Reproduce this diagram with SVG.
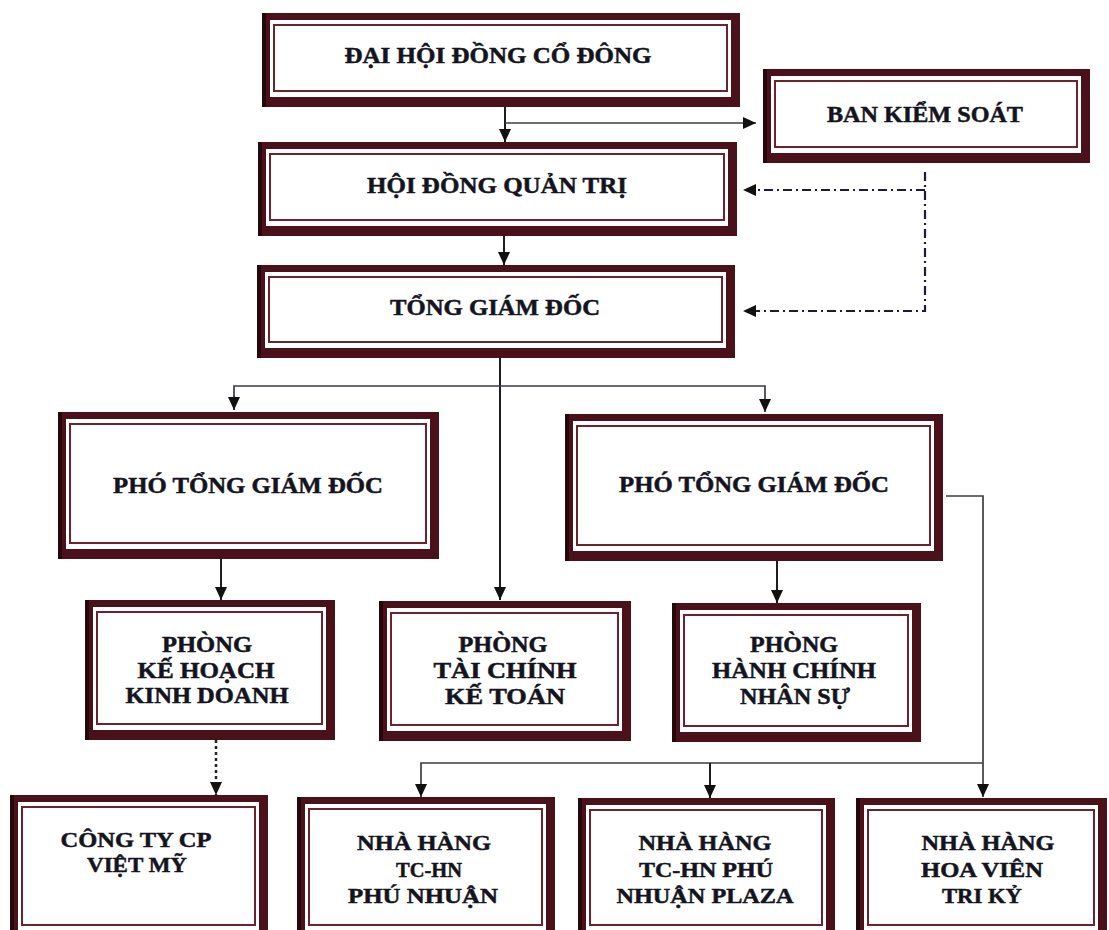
<svg xmlns="http://www.w3.org/2000/svg" width="1109" height="930" viewBox="0 0 1109 930">
<style>
.outer{fill:#4a111a}
.edge{fill:#26070b}
.gap{fill:#ffffff}
.thin{fill:#ffffff;stroke:#6e222c;stroke-width:2}
.lbl{font-family:"Liberation Serif","Times New Roman",serif;font-weight:bold;font-size:23px;fill:#14141e;stroke:#14141e;stroke-width:0.5;text-anchor:middle}
.sm{font-size:22px}
.ln{fill:none;stroke:#1e1e1e;stroke-width:2}
.lnh{fill:none;stroke:#3c3c44;stroke-width:1.7}
.dd{fill:none;stroke:#1c1c3a;stroke-width:2.2;stroke-dasharray:9 4 2 4}
.dot{fill:none;stroke:#222;stroke-width:2.5;stroke-dasharray:3 3}
</style>
<defs>
<marker id="ah" markerUnits="userSpaceOnUse" markerWidth="13" markerHeight="12" refX="13" refY="6" orient="auto">
<path d="M0,0 L13,6 L0,12 z" fill="#111"/>
</marker>
</defs>
<rect width="1109" height="930" fill="#ffffff"/>

<g id="connectors">
<path class="ln" d="M505,107 V142" marker-end="url(#ah)"/>
<path class="lnh" d="M505,123 H756" marker-end="url(#ah)"/>
<path class="ln" d="M504,236 V265" marker-end="url(#ah)"/>
<path class="dd" d="M925,172 V311 H743" marker-end="url(#ah)"/>
<path class="dd" d="M925,190 H743" marker-end="url(#ah)"/>
<path class="ln" d="M500,358 V600" marker-end="url(#ah)"/>
<path class="lnh" d="M234,410 V386 H765 V412" marker-end="url(#ah)"/>
<path class="lnh" d="M234,395 V410" marker-end="url(#ah)"/>
<path class="ln" d="M221,559 V600" marker-end="url(#ah)"/>
<path class="ln" d="M777,561 V603" marker-end="url(#ah)"/>
<path class="lnh" d="M946,496 H983 V797" marker-end="url(#ah)"/>
<path class="lnh" d="M983,763 H421 V797" marker-end="url(#ah)"/>
<path class="ln" d="M710,763 V798" marker-end="url(#ah)"/>
<path class="dot" d="M216,740 V795" marker-end="url(#ah)"/>
</g>

<g id="n-dhdcd">
<rect class="outer" x="262" y="13" width="478" height="94"/>
<rect class="edge" x="262" y="13" width="4" height="94"/>
<rect class="gap" x="270" y="20" width="461" height="77"/>
<rect class="thin" x="274" y="25" width="453" height="66"/>
<text class="lbl" x="498" y="63" textLength="307" lengthAdjust="spacingAndGlyphs">ĐẠI HỘI ĐỒNG CỔ ĐÔNG</text>
</g>

<g id="n-bks">
<rect class="outer" x="763" y="69" width="327" height="94"/>
<rect class="edge" x="763" y="69" width="4" height="94"/>
<rect class="gap" x="771" y="76" width="310" height="77"/>
<rect class="thin" x="775" y="81" width="302" height="66"/>
<text class="lbl" x="925" y="122" textLength="196" lengthAdjust="spacingAndGlyphs">BAN KIỂM SOÁT</text>
</g>

<g id="n-hdqt">
<rect class="outer" x="258" y="142" width="479" height="94"/>
<rect class="edge" x="258" y="142" width="4" height="94"/>
<rect class="gap" x="266" y="149" width="462" height="77"/>
<rect class="thin" x="270" y="154" width="454" height="66"/>
<text class="lbl" x="497" y="193" textLength="260" lengthAdjust="spacingAndGlyphs">HỘI ĐỒNG QUẢN TRỊ</text>
</g>

<g id="n-tgd">
<rect class="outer" x="257" y="265" width="478" height="93"/>
<rect class="edge" x="257" y="265" width="4" height="93"/>
<rect class="gap" x="265" y="272" width="461" height="76"/>
<rect class="thin" x="269" y="277" width="453" height="65"/>
<text class="lbl" x="495" y="315" textLength="210" lengthAdjust="spacingAndGlyphs">TỔNG GIÁM ĐỐC</text>
</g>

<g id="n-ptgd1">
<rect class="outer" x="58" y="412" width="381" height="147"/>
<rect class="edge" x="58" y="412" width="4" height="147"/>
<rect class="gap" x="66" y="419" width="364" height="130"/>
<rect class="thin" x="70" y="424" width="356" height="119"/>
<text class="lbl" x="248" y="493" textLength="270" lengthAdjust="spacingAndGlyphs">PHÓ TỔNG GIÁM ĐỐC</text>
</g>

<g id="n-ptgd2">
<rect class="outer" x="565" y="414" width="378" height="147"/>
<rect class="edge" x="565" y="414" width="4" height="147"/>
<rect class="gap" x="573" y="421" width="361" height="130"/>
<rect class="thin" x="577" y="426" width="353" height="119"/>
<text class="lbl" x="754" y="492" textLength="270" lengthAdjust="spacingAndGlyphs">PHÓ TỔNG GIÁM ĐỐC</text>
</g>

<g id="n-khkd">
<rect class="outer" x="85" y="600" width="250" height="140"/>
<rect class="edge" x="85" y="600" width="4" height="140"/>
<rect class="gap" x="93" y="607" width="233" height="123"/>
<rect class="thin" x="97" y="612" width="225" height="112"/>
<text class="lbl" x="207" y="652" textLength="90" lengthAdjust="spacingAndGlyphs">PHÒNG</text>
<text class="lbl" x="206" y="678" textLength="137" lengthAdjust="spacingAndGlyphs">KẾ HOẠCH</text>
<text class="lbl" x="207" y="703" textLength="163" lengthAdjust="spacingAndGlyphs">KINH DOANH</text>
</g>

<g id="n-tckt">
<rect class="outer" x="379" y="601" width="252" height="140"/>
<rect class="edge" x="379" y="601" width="4" height="140"/>
<rect class="gap" x="387" y="608" width="235" height="123"/>
<rect class="thin" x="391" y="613" width="227" height="112"/>
<text class="lbl" x="503" y="652" textLength="89" lengthAdjust="spacingAndGlyphs">PHÒNG</text>
<text class="lbl" x="505" y="678" textLength="143" lengthAdjust="spacingAndGlyphs">TÀI CHÍNH</text>
<text class="lbl" x="505" y="704" textLength="120" lengthAdjust="spacingAndGlyphs">KẾ TOÁN</text>
</g>

<g id="n-hcns">
<rect class="outer" x="672" y="603" width="249" height="139"/>
<rect class="edge" x="672" y="603" width="4" height="139"/>
<rect class="gap" x="680" y="610" width="232" height="122"/>
<rect class="thin" x="684" y="615" width="224" height="111"/>
<text class="lbl" x="794" y="652" textLength="88" lengthAdjust="spacingAndGlyphs">PHÒNG</text>
<text class="lbl" x="794" y="678" textLength="164" lengthAdjust="spacingAndGlyphs">HÀNH CHÍNH</text>
<text class="lbl" x="795" y="704" textLength="110" lengthAdjust="spacingAndGlyphs">NHÂN SỰ</text>
</g>

<g id="n-vietmy">
<rect class="outer" x="10" y="795" width="258" height="150"/>
<rect class="edge" x="10" y="795" width="4" height="150"/>
<rect class="gap" x="18" y="802" width="241" height="130"/>
<rect class="thin" x="22" y="807" width="233" height="118"/>
<text class="lbl sm" x="136" y="847" textLength="151" lengthAdjust="spacingAndGlyphs">CÔNG TY CP</text>
<text class="lbl sm" x="137" y="872" textLength="100" lengthAdjust="spacingAndGlyphs">VIỆT MỸ</text>
</g>

<g id="n-nh1">
<rect class="outer" x="297" y="797" width="258" height="150"/>
<rect class="edge" x="297" y="797" width="4" height="150"/>
<rect class="gap" x="305" y="804" width="241" height="128"/>
<rect class="thin" x="309" y="809" width="233" height="116"/>
<text class="lbl sm" x="424" y="850" textLength="134" lengthAdjust="spacingAndGlyphs">NHÀ HÀNG</text>
<text class="lbl sm" x="429" y="877" textLength="66" lengthAdjust="spacingAndGlyphs">TC-HN</text>
<text class="lbl sm" x="423" y="903" textLength="150" lengthAdjust="spacingAndGlyphs">PHÚ NHUẬN</text>
</g>

<g id="n-nh2">
<rect class="outer" x="578" y="798" width="257" height="150"/>
<rect class="edge" x="578" y="798" width="4" height="150"/>
<rect class="gap" x="586" y="805" width="240" height="127"/>
<rect class="thin" x="590" y="810" width="232" height="115"/>
<text class="lbl sm" x="705" y="850" textLength="133" lengthAdjust="spacingAndGlyphs">NHÀ HÀNG</text>
<text class="lbl sm" x="706" y="877" textLength="134" lengthAdjust="spacingAndGlyphs">TC-HN PHÚ</text>
<text class="lbl sm" x="705" y="903" textLength="177" lengthAdjust="spacingAndGlyphs">NHUẬN PLAZA</text>
</g>

<g id="n-nh3">
<rect class="outer" x="856" y="798" width="251" height="150"/>
<rect class="edge" x="856" y="798" width="4" height="150"/>
<rect class="gap" x="864" y="805" width="234" height="127"/>
<rect class="thin" x="868" y="810" width="226" height="115"/>
<text class="lbl sm" x="988" y="850" textLength="133" lengthAdjust="spacingAndGlyphs">NHÀ HÀNG</text>
<text class="lbl sm" x="982" y="877" textLength="122" lengthAdjust="spacingAndGlyphs">HOA VIÊN</text>
<text class="lbl sm" x="982" y="903" textLength="80" lengthAdjust="spacingAndGlyphs">TRI KỶ</text>
</g>
</svg>
